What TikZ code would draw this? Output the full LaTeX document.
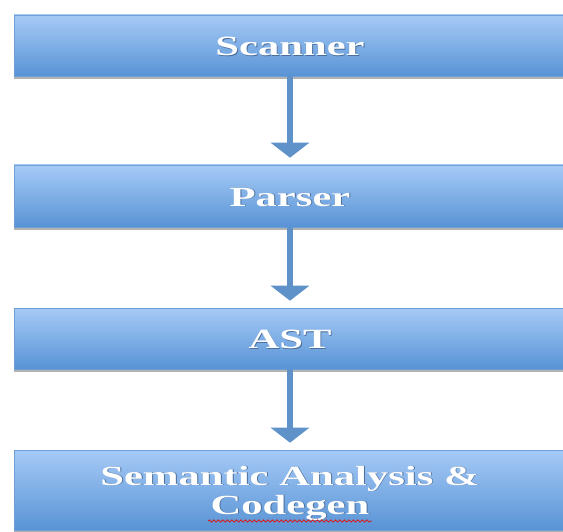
\documentclass[tikz,border=0pt]{standalone}
\usepackage{fontspec}
\setmainfont{Liberation Serif}
\usetikzlibrary{arrows.meta,shadows,decorations.pathmorphing}
\definecolor{boxtop}{HTML}{A6CAF6}
\definecolor{boxbot}{HTML}{5893D5}
\definecolor{boxline}{HTML}{6E9FD6}
\definecolor{arrowc}{HTML}{5E92C9}
\definecolor{txtshadow}{HTML}{4A6F9C}
\definecolor{squig}{HTML}{D02020}
\newcommand\shtext[1]{\scalebox{1.58}[1.03]{\rlap{\hspace{0.6pt}\raisebox{-0.8pt}{\color{txtshadow}#1}}#1}}
\newcommand\lowered[2]{\raisebox{#1}[\height][\depth]{#2}}
\begin{document}
\begin{tikzpicture}[x=1pt,y=1pt,
  stage/.style={rectangle, minimum width=552pt, minimum height=#1,
    top color=boxtop, bottom color=boxbot, draw=boxline, line width=0.6pt,
    text=white, font=\fontsize{27}{28}\selectfont\bfseries, inner sep=0pt,
    drop shadow={shadow xshift=0pt, shadow yshift=-3pt, opacity=0.3, fill=black}},
  flow/.style={draw=arrowc, line width=6.5pt, -{Triangle[width=38pt,length=15pt]}, shorten >=7pt},
  squiggle/.style={squig, line width=0.9pt, decorate, decoration={snake, amplitude=1.1pt, segment length=4.5pt}}]
\useasboundingbox (0,0) rectangle (563,-532);
\node[stage=61pt] (scan) at (290,-45.5) {\lowered{-1.5pt}{\shtext{Scanner}}};
\node[stage=62pt] (pars) at (290,-196) {\lowered{-1.5pt}{\shtext{Parser}}};
\node[stage=61pt] (ast) at (290,-338.5) {\lowered{-1.5pt}{\shtext{AST}}};
\node[stage=80pt] (sem) at (290,-490) {\lowered{-4pt}{\begin{tabular}{@{}c@{}}\shtext{Semantic Analysis \&}\\[1pt]\shtext{Codegen}\end{tabular}}};
\draw[flow] (scan.south) -- (pars.north);
\draw[flow] (pars.south) -- (ast.north);
\draw[flow] (ast.south) -- (sem.north);
\coordinate (sqa) at (208,-521);
\coordinate (sqb) at (372,-521);
\draw[squiggle] (sqa) -- (sqb);
\end{tikzpicture}
\end{document}
